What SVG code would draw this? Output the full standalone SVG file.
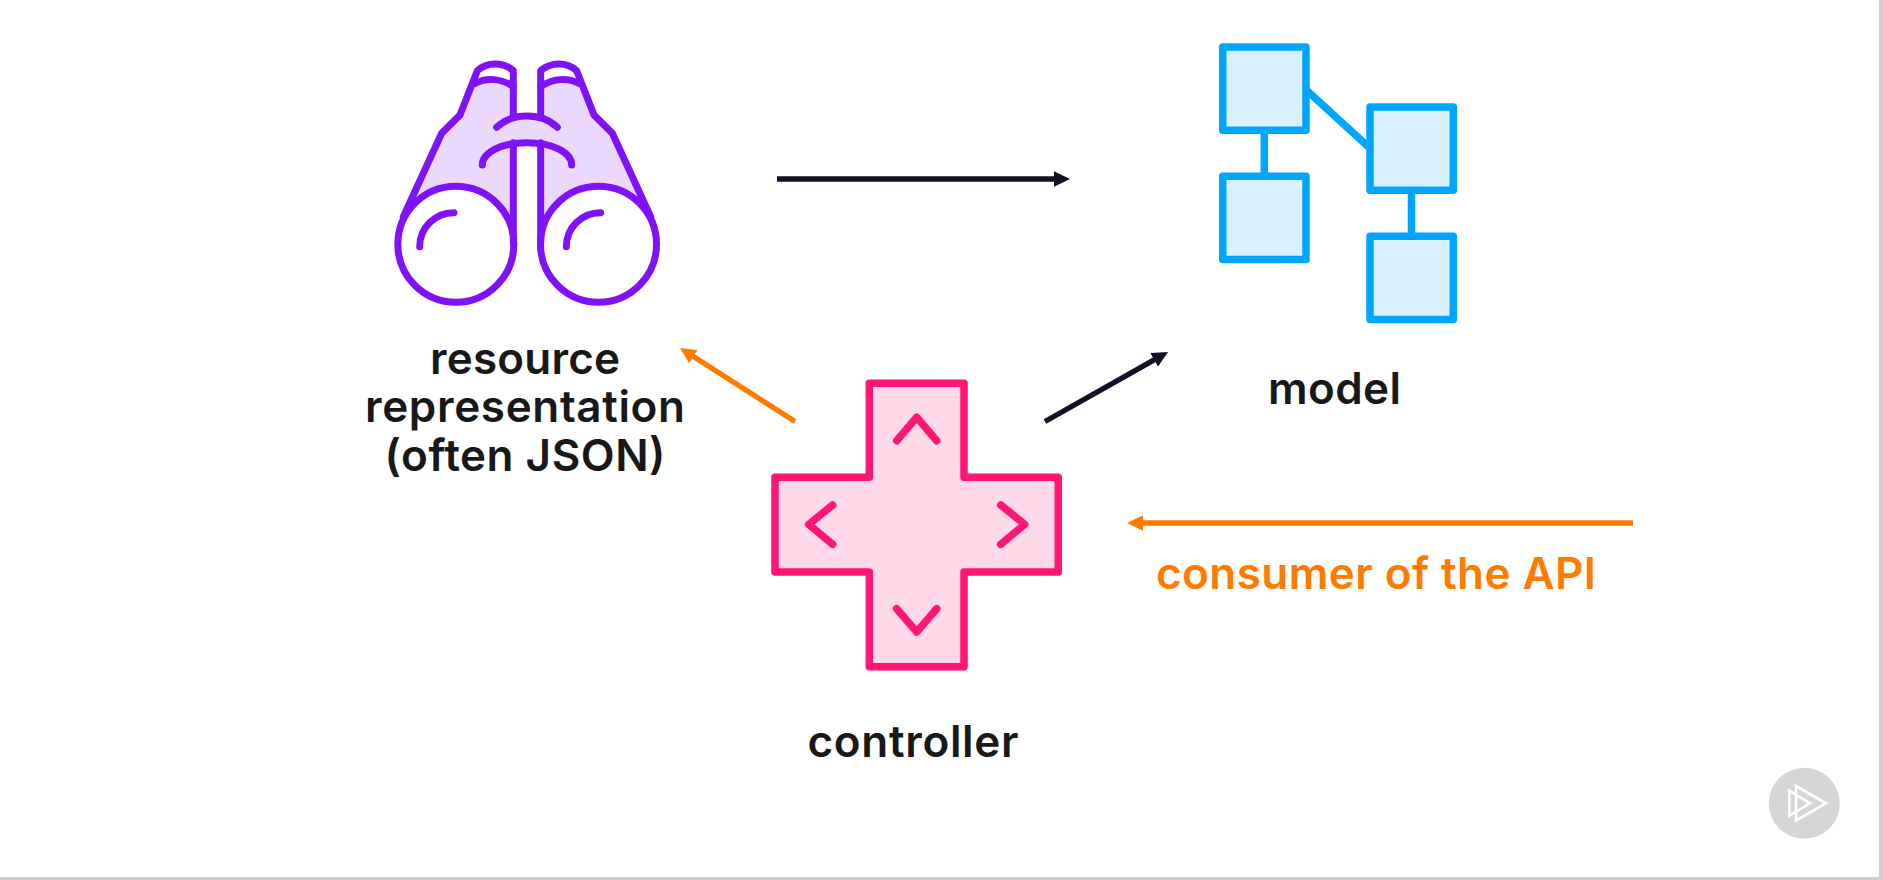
<svg xmlns="http://www.w3.org/2000/svg" width="1883" height="880" viewBox="0 0 1883 880">
<style>
.t{font-family:"Inter","Liberation Sans",sans-serif;font-weight:600;font-size:44px;fill:#181818;text-anchor:middle}
.p{fill:none;stroke:#7f12f9;stroke-width:21;stroke-linecap:round;stroke-linejoin:round}
.pf{fill:#ead9fd;stroke:none}
.m{fill:#d9f0ff;stroke:#00a5ff;stroke-width:7.5;stroke-linejoin:round}
.ml{fill:none;stroke:#00a5ff;stroke-width:7.5}
.c{fill:none;stroke:#ff1675;stroke-width:7.5;stroke-linecap:round;stroke-linejoin:round}
.k{stroke:#130f25;stroke-width:5.3;fill:none}
.o{stroke:#ff7b00;stroke-width:5.3;fill:none}
</style>
<defs>
<marker id="ak" markerUnits="userSpaceOnUse" markerWidth="17" markerHeight="16" refX="1" refY="8" orient="auto"><path d="M0 .2L16 8L0 15.8Z" fill="#130f25"/></marker>
<marker id="ao" markerUnits="userSpaceOnUse" markerWidth="17" markerHeight="16" refX="1" refY="8" orient="auto"><path d="M0 .2L16 8L0 15.8Z" fill="#ff7b00"/></marker>
</defs>
<rect width="1883" height="880" fill="#fff"/>
<rect x="1879" y="0" width="4" height="880" fill="#cfcfcf"/>
<rect x="0" y="877" width="1883" height="3" fill="#cfcfcf"/>

<g id="connectors">
<path class="k" d="M777 179H1055" marker-end="url(#ak)"/>
<path class="k" d="M1045 421.5L1155 359.4" marker-end="url(#ak)"/>
<path class="o" d="M795 421.5L692.6 356.1" marker-end="url(#ao)"/>
<path class="o" d="M1633 523H1142" marker-end="url(#ao)"/>
</g>

<g id="binoculars" transform="translate(380 40) scale(.33333)">
<path class="pf" d="M400 135Q340 100 285 125L240 225L185 280L75 525A182 182 0 0 1 400 600V308H482V600A182 182 0 0 1 807 525L697 280L642 225L597 125Q542 100 482 135V228H400Z"/>
<circle class="p" cx="227.5" cy="613" r="174" style="fill:#fff"/>
<circle class="p" cx="655.5" cy="613" r="174" style="fill:#fff"/>
<path class="p" d="M400 610V308M400 228V92C370 65 320 65 292 92L240 225L185 280L70 530"/>
<path class="p" d="M482 610V308M482 228V92C512 65 562 65 590 92L642 225L697 280L812 530"/>
<path class="p" d="M285 130C320 112 365 115 400 140M597 130C562 112 517 115 482 140"/>
<path class="p" d="M350 262C375 238 405 228 441 228C477 228 507 238 532 262"/>
<path class="p" d="M307 375C307 340 360 308 441 308C522 308 575 340 575 375"/>
<path class="p" d="M119 620A102 102 0 0 1 222 518M559 620A102 102 0 0 1 662 518"/>
</g>
<g id="resource-label">
<text class="t" x="525" y="374" textLength="190">resource</text>
<text class="t" x="525" y="422" textLength="320">representation</text>
<text class="t" x="525" y="471" textLength="281">(often JSON)</text>
</g>

<g id="model">
<path class="ml" d="M1264.3 130V176M1411.5 190V236M1306 89.8L1370 148.2"/>
<rect class="m" x="1222.7" y="47" width="83.3" height="83.3"/>
<rect class="m" x="1222.7" y="176.3" width="83.3" height="83.3"/>
<rect class="m" x="1370" y="107" width="83.3" height="83.3"/>
<rect class="m" x="1370" y="236.3" width="83.3" height="83.3"/>
<text class="t" x="1334.5" y="404" textLength="133">model</text>
</g>

<g id="controller">
<path d="M869.3 383.3H964V477.3H1058.3V572H964V666.7H869.3V572H775V477.3H869.3Z" fill="#ffd9e8" stroke="#ff1675" stroke-width="7.5" stroke-linejoin="round"/>
<path class="c" d="M896.7 440.7L916.7 417.3L936.7 440.7M832.7 505L808.7 524.3L832.7 544.3M1000.7 505L1024.7 524.3L1000.7 544.3M896.7 608.7L916.7 632L936.7 608.7"/>
<text class="t" x="913" y="757" textLength="211">controller</text>
</g>

<g id="consumer">
<text class="t" x="1376" y="589" textLength="440" style="fill:#ff7b00">consumer of the API</text>
</g>

<g id="logo">
<circle cx="1804.3" cy="803.3" r="35.5" fill="#d5d6d8"/>
<path d="M1796 786L1826 803.3L1796 820.5ZM1789.3 790.7L1810 803.3L1789.3 815.7Z" fill="none" stroke="#fff" stroke-width="2.6"/>
</g>
</svg>
